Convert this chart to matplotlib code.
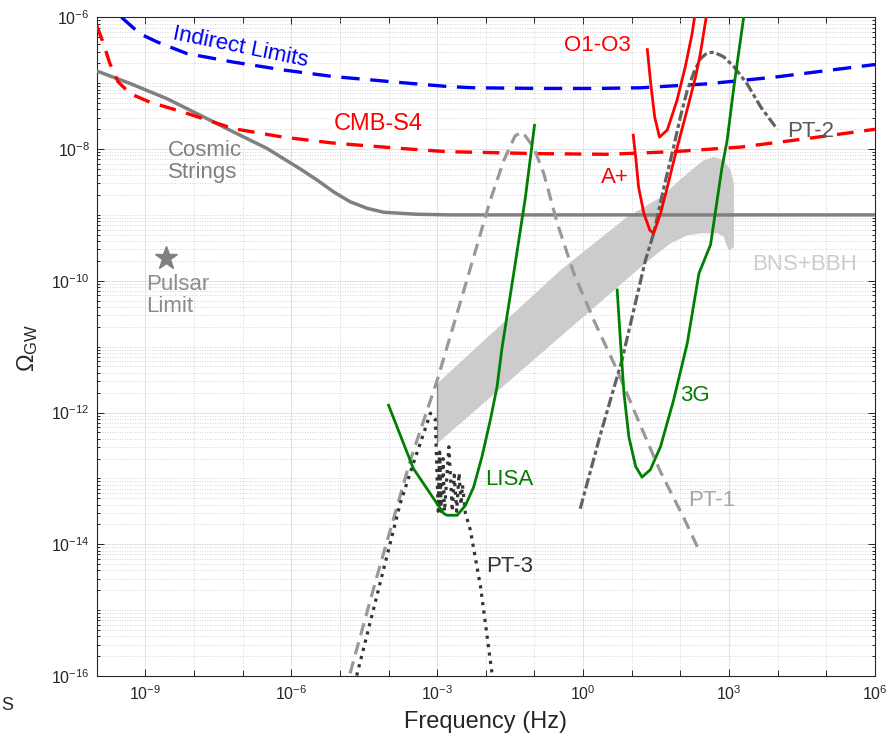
import numpy as np
import matplotlib
matplotlib.use('Agg')
import matplotlib.pyplot as plt
from matplotlib.ticker import FixedLocator, FuncFormatter, NullFormatter

plt.rcParams['font.family'] = ['Liberation Sans', 'DejaVu Sans']
plt.rcParams['mathtext.fontset'] = 'custom'
plt.rcParams['mathtext.rm'] = 'Liberation Sans'
plt.rcParams['mathtext.it'] = 'Liberation Sans:italic'
plt.rcParams['mathtext.bf'] = 'Liberation Sans:bold'

# ---------------- data (log10 of frequency [Hz] and of Omega_GW) ----------------
cs_logf = [-10.0, -9.31, -8.56, -7.87, -7.19, -6.50, -5.82, -5.47, -5.13, -4.79, -4.44, -4.10, -3.42, -2.73, 6.0]
cs_logo = [-6.815, -7.006, -7.234, -7.487, -7.74, -7.99, -8.30, -8.47, -8.65, -8.80, -8.90, -8.96, -8.99, -9.0, -9.0]

ind_logf = [-9.49, -9.11, -8.77, -8.15, -7.19, -6.16, -5.13, -3.76, -2.80, -2.25, -0.9, 0.3, 1.18, 2.55, 3.92, 5.97, 6.0]
ind_logo = [-6.0, -6.25, -6.37, -6.55, -6.68, -6.80, -6.90, -6.99, -7.05, -7.07, -7.08, -7.08, -7.07, -7.01, -6.91, -6.72, -6.72]

cmb_logf = [-10.0, -9.86, -9.73, -9.56, -9.31, -8.90, -8.22, -7.19, -6.16, -5.13, -3.76, -2.80, -0.88, 0.49, 1.86, 3.24, 4.61, 6.0]
cmb_logo = [-6.12, -6.40, -6.70, -6.98, -7.16, -7.29, -7.44, -7.69, -7.82, -7.91, -7.99, -8.04, -8.07, -8.08, -8.04, -7.97, -7.84, -7.70]

o1o3_logf = [1.32, 1.39, 1.47, 1.57, 1.73, 1.93, 2.10, 2.24, 2.29]
o1o3_logo = [-6.49, -7.01, -7.51, -7.82, -7.71, -7.26, -6.75, -6.25, -6.0]

aplus_logf = [1.03, 1.08, 1.14, 1.25, 1.37, 1.45, 1.59, 1.73, 1.90, 2.10, 2.31, 2.41, 2.53]
aplus_logo = [-7.79, -8.12, -8.58, -8.98, -9.23, -9.28, -8.98, -8.58, -8.07, -7.51, -6.91, -6.55, -6.0]

lisa_logf = [-4.0, -3.49, -2.87, -2.80, -2.59, -2.42, -2.25, -2.08, -1.91, -1.77, -1.67, -1.43, -1.19, -1.0]
lisa_logo = [-11.89, -12.85, -13.53, -13.56, -13.56, -13.41, -13.13, -12.67, -12.12, -11.61, -11.03, -9.90, -8.75, -7.64]

g3_logf = [0.70, 0.77, 0.84, 0.94, 1.08, 1.21, 1.38, 1.59, 1.86, 2.14, 2.38, 2.62, 2.85, 2.96, 3.10, 3.30]
g3_logo = [-10.14, -10.95, -11.71, -12.37, -12.82, -12.98, -12.87, -12.52, -11.81, -10.95, -9.89, -9.45, -8.30, -7.87, -7.05, -6.0]

pt1_logf = [-4.9, -4.24, -3.55, -3.0, -2.39, -1.91, -1.63, -1.40, -1.25, -1.02, -0.81, -0.53, -0.19, 0.22, 0.70, 1.18, 1.59, 2.07, 2.35]
pt1_logo = [-16.25, -14.49, -12.72, -11.51, -9.99, -8.78, -8.17, -7.80, -7.74, -7.97, -8.37, -9.13, -9.89, -10.60, -11.36, -12.20, -12.90, -13.60, -14.04]

pt2_logf = [-0.06, 0.36, 0.80, 1.28, 1.45, 1.66, 1.86, 2.00, 2.14, 2.28, 2.41, 2.55, 2.69, 2.89, 3.10, 3.37, 3.65, 3.99]
pt2_logo = [-13.46, -12.32, -11.20, -9.69, -9.28, -8.58, -7.97, -7.51, -7.11, -6.83, -6.63, -6.54, -6.53, -6.60, -6.75, -7.01, -7.36, -7.70]

pt3_logf = [-4.75, -4.65, -3.76, -3.49, -3.28, -3.14, -3.04, -2.98, -2.95, -2.92, -2.88, -2.85, -2.76, -2.69, -2.65, -2.60, -2.55, -2.51, -2.48, -2.42, -2.32, -2.11, -1.87, -1.82]
pt3_logo = [-16.24, -15.98, -13.38, -12.77, -12.32, -12.01, -12.10, -13.50, -12.60, -13.50, -12.70, -13.50, -12.52, -13.50, -12.95, -13.50, -12.92, -13.40, -13.10, -13.53, -13.78, -14.64, -15.98, -16.20]

band_logf = [-3.0, -0.467, 0.905, 1.60, 2.14, 2.48, 2.69, 2.89, 3.03, 3.10, 3.10, 3.00, 2.93, 2.89, 2.76, 2.41, 2.14, 1.80, 1.52, 1.11, -3.0]
band_logo = [-11.56, -9.84, -9.03, -8.73, -8.37, -8.17, -8.12, -8.17, -8.32, -8.52, -9.49, -9.54, -9.43, -9.33, -9.28, -9.28, -9.31, -9.43, -9.59, -9.84, -12.47]

pulsar_logf = [-8.58]
pulsar_logo = [-9.65]

xtick_exp = [-9, -6, -3, 0, 3, 6]
ytick_exp = [-16, -14, -12, -10, -8, -6]

# ---------------- figure ----------------
fig = plt.figure(figsize=(8.88, 7.40), dpi=100)
ax = fig.add_axes([96.7 / 888, (740 - 676) / 740, (875 - 96.7) / 888, (676 - 17.3) / 740])
ax.set_xscale('log')
ax.set_yscale('log')
ax.set_xlim(1e-10, 1e6)
ax.set_ylim(1e-16, 1e-6)

P = lambda a: 10.0 ** np.asarray(a)

GREEN = (0.0, 0.5, 0.0)
RED = (1.0, 0.0, 0.0)
BLUE = (0.0, 0.0, 0.95)

ax.fill(P(band_logf), P(band_logo), color=(0.8, 0.8, 0.8), lw=0, zorder=1)
ax.plot(P([band_logf[-1], band_logf[0]]), P([band_logo[-1], band_logo[0]]), color=(0.5, 0.5, 0.5), lw=0.9, zorder=1.5)

ax.plot(P(cs_logf), P(cs_logo), color=(0.5, 0.5, 0.5), lw=2.5, zorder=3)
ax.plot(P(ind_logf), P(ind_logo), color=BLUE, lw=2.4, dashes=(5.5, 3.2), zorder=3)
ax.plot(P(cmb_logf), P(cmb_logo), color=RED, lw=2.4, dashes=(5.0, 3.2), zorder=3)
ax.plot(P(pt1_logf), P(pt1_logo), color=(0.6, 0.6, 0.6), lw=2.3, dashes=(3.9, 2.3), zorder=3)
ax.plot(P(pt2_logf), P(pt2_logo), color=(0.38, 0.38, 0.38), lw=2.3, dashes=(3.3, 1.0, 1.3, 1.0), zorder=3)
ax.plot(P(pt3_logf), P(pt3_logo), color=(0.2, 0.2, 0.2), lw=2.3, linestyle=':', zorder=3)
ax.plot(P(lisa_logf), P(lisa_logo), color=GREEN, lw=2.0, zorder=4)
ax.plot(P(g3_logf), P(g3_logo), color=GREEN, lw=2.0, zorder=4)
ax.plot(P(o1o3_logf), P(o1o3_logo), color=RED, lw=2.0, zorder=4)
ax.plot(P(aplus_logf), P(aplus_logo), color=RED, lw=2.0, zorder=4)
ax.plot(P(pulsar_logf), P(pulsar_logo), marker='*', ms=17, color=(0.5, 0.5, 0.5), ls='none', zorder=4)

# ---------------- labels ----------------
fs = 16
ax.text(P(-7.05), P(-6.455), 'Indirect Limits', color=BLUE, fontsize=fs, rotation=-11.5,
        ha='center', va='center', zorder=5)
ax.text(P(-4.21), P(-7.62), 'CMB-S4', color=RED, fontsize=17, ha='center', va='center', zorder=5,
        bbox=dict(facecolor='white', edgecolor='none', pad=1))
ax.text(P(-8.53), P(-7.86), 'Cosmic\nStrings', color=(0.5, 0.5, 0.5), fontsize=fs, ha='left', va='top',
        linespacing=1.05, zorder=5)
ax.text(P(-8.98), P(-9.90), 'Pulsar\nLimit', color=(0.55, 0.55, 0.55), fontsize=fs, ha='left', va='top',
        linespacing=1.05, zorder=5)
ax.text(P(0.295), P(-6.425), 'O1-O3', color=RED, fontsize=fs, ha='center', va='center', zorder=5)
ax.text(P(0.645), P(-8.43), 'A+', color=RED, fontsize=fs, ha='center', va='center', zorder=5)
ax.text(P(4.68), P(-7.73), 'PT-2', color=(0.35, 0.35, 0.35), fontsize=fs, ha='center', va='center', zorder=5)
ax.text(P(4.56), P(-9.75), 'BNS+BBH', color=(0.8, 0.8, 0.8), fontsize=fs, ha='center', va='center', zorder=5)
ax.text(P(-1.51), P(-13.01), 'LISA', color=GREEN, fontsize=fs, ha='center', va='center', zorder=5)
ax.text(P(2.30), P(-11.74), '3G', color=GREEN, fontsize=fs, ha='center', va='center', zorder=5)
ax.text(P(2.65), P(-13.33), 'PT-1', color=(0.65, 0.65, 0.65), fontsize=fs, ha='center', va='center', zorder=5)
ax.text(P(-1.51), P(-14.34), 'PT-3', color=(0.2, 0.2, 0.2), fontsize=fs, ha='center', va='center', zorder=5)

# ---------------- axes styling ----------------
axc = (0.15, 0.15, 0.15)
ax.xaxis.set_major_locator(FixedLocator(P(xtick_exp)))
ax.xaxis.set_minor_locator(FixedLocator(P(np.arange(-10, 7))))
ax.yaxis.set_major_locator(FixedLocator(P(ytick_exp)))
ymin = [m * 10.0 ** e for e in range(-16, -6) for m in range(1, 10)]
ax.yaxis.set_minor_locator(FixedLocator(ymin))
ax.xaxis.set_major_formatter(FuncFormatter(lambda v, p: r'$10^{%d}$' % int(round(np.log10(v)))))
ax.yaxis.set_major_formatter(FuncFormatter(lambda v, p: r'$10^{%d}$' % int(round(np.log10(v)))))
ax.xaxis.set_minor_formatter(NullFormatter())
ax.yaxis.set_minor_formatter(NullFormatter())

ax.tick_params(which='both', direction='in', top=True, right=True, colors=axc, width=0.7)
ax.tick_params(which='major', length=5, labelsize=11.5)
ax.tick_params(axis='x', which='major', pad=6)
ax.tick_params(axis='y', which='major', pad=5)
ax.tick_params(axis='x', which='minor', length=4)
ax.tick_params(axis='y', which='minor', length=2.5)
for s in ax.spines.values():
    s.set_color(axc)
    s.set_linewidth(0.8)

ax.set_axisbelow(True)
ax.grid(which='major', color=(0.87, 0.87, 0.87), lw=0.6, ls='-')
ax.grid(which='minor', color=(0.78, 0.78, 0.78), lw=0.6, ls=(0, (1, 2)))

ax.set_xlabel('Frequency (Hz)', fontsize=17, color=axc, labelpad=6)
fig.text(28 / 888, 1 - 348 / 740, r'$\Omega_{\mathrm{GW}}$', rotation=90, fontsize=17, color=axc,
         ha='center', va='center')
fig.text(1 / 888, 1 - 705 / 740, 'S', fontsize=13, color=axc, ha='left', va='center')

fig.savefig('out.png', dpi=100)
